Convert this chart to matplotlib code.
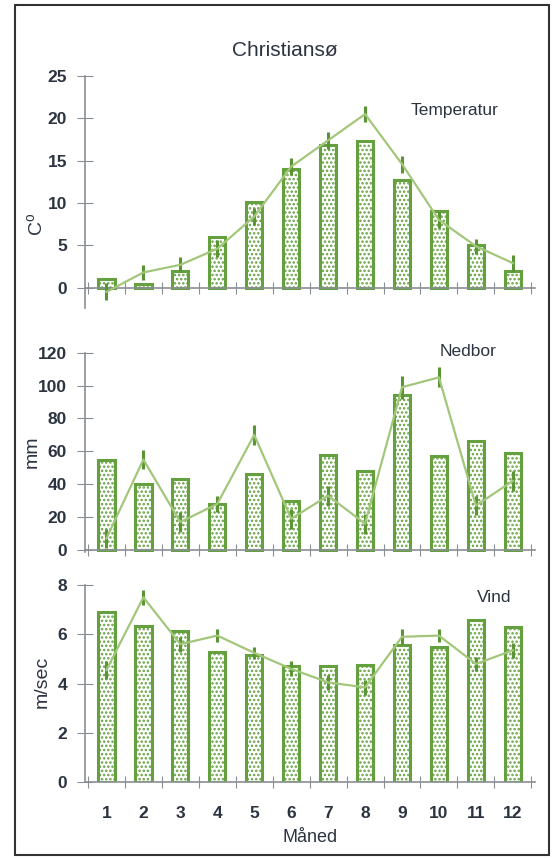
import matplotlib

matplotlib.use("Agg")
import matplotlib.pyplot as plt
from matplotlib.patches import Rectangle

MONTHS = list(range(1, 13))

# Temperatur (C)
TEMP_BAR = [1.0, 0.4, 2.0, 6.0, 10.1, 14.0, 16.9, 17.3, 12.7, 9.1, 5.0, 2.0]
TEMP_LINE = [-0.5, 1.8, 2.7, 4.6, 8.4, 14.3, 17.4, 20.5, 14.6, 8.0, 4.9, 2.9]
TEMP_ERR = [1.0, 0.9, 0.9, 1.0, 1.0, 1.0, 1.0, 0.9, 1.0, 0.9, 0.9, 1.0]

# Nedbor (mm)
RAIN_BAR = [55, 40, 43, 28, 46, 30, 58, 48, 94, 57, 66, 59]
RAIN_LINE = [7, 55, 17, 28, 70, 19, 33, 16, 99, 105, 27, 42]
RAIN_ERR = [6, 6, 6, 5, 6, 6, 6, 6, 7, 6, 6, 6]

# Vind (m/sec)
WIND_BAR = [6.9, 6.35, 6.15, 5.3, 5.15, 4.7, 4.7, 4.75, 5.55, 5.5, 6.6, 6.28]
WIND_LINE = [4.55, 7.5, 5.6, 5.95, 5.25, 4.6, 4.05, 3.85, 5.9, 5.95, 4.8, 5.35]
WIND_ERR = [0.35, 0.3, 0.3, 0.25, 0.25, 0.3, 0.3, 0.3, 0.3, 0.25, 0.3, 0.3]

BAR_EDGE = "#64a03e"
LINE_COLOR = "#a3c77a"
ERR_COLOR = "#5a9435"
AXIS_COLOR = "#8a8f95"
TEXT_COLOR = "#2b3440"

plt.rcParams.update({
    "font.family": ["Liberation Sans", "DejaVu Sans"],
    "hatch.linewidth": 1.2,
})

fig = plt.figure(figsize=(5.52, 8.58), dpi=100)

W, H = 552, 858


def axes_px(x0, x1, ytop, ybot):
    return fig.add_axes([x0 / W, 1 - ybot / H, (x1 - x0) / W, (ybot - ytop) / H])


def panel(ax, bars, line, err, ylim, yticks, label, name, name_xy, show_months=False):
    ax.bar(MONTHS, bars, width=0.44, facecolor="white", edgecolor=BAR_EDGE,
           linewidth=2.2, hatch="....", zorder=2)
    ax.errorbar(MONTHS, line, yerr=err, fmt="-", color=LINE_COLOR, lw=1.6,
                ecolor=ERR_COLOR, elinewidth=2.2, capsize=0, zorder=3)
    ax.set_xlim(0.42, 12.6)
    ax.set_ylim(*ylim)
    ax.set_yticks(yticks)
    for t in ax.get_yticklabels():
        t.set_fontweight("bold")
    ax.spines[["top", "right"]].set_visible(False)
    ax.spines["bottom"].set_position(("data", 0))
    for s in ("left", "bottom"):
        ax.spines[s].set_color(AXIS_COLOR)
        ax.spines[s].set_linewidth(1.2)
    ax.set_xticks([m + 0.5 for m in range(13)])
    ax.tick_params(axis="x", which="major", direction="inout", length=9,
                   color=AXIS_COLOR, labelbottom=False)
    ax.tick_params(axis="y", direction="inout", length=12, color=AXIS_COLOR,
                   labelsize=12.5, labelcolor=TEXT_COLOR, pad=7)
    if show_months:
        ax.set_xticks(MONTHS, minor=True)
        ax.set_xticklabels([str(m) for m in MONTHS], minor=True,
                           fontweight="bold")
        ax.tick_params(axis="x", which="minor", length=0, pad=17,
                       labelsize=12.5, labelcolor=TEXT_COLOR)
    else:
        ax.tick_params(axis="x", which="minor", bottom=False)
    ax.patch.set_alpha(0)
    fig.text(name_xy[0] / W, 1 - name_xy[1] / H, name, fontsize=12.5,
             color=TEXT_COLOR, ha="center", va="center")
    fig.text(label[1] / W, 1 - label[2] / H, label[0], fontsize=14,
             color=TEXT_COLOR, rotation=90, ha="center", va="center")


ax1 = axes_px(85, 535, 76, 308)
panel(ax1, TEMP_BAR, TEMP_LINE, TEMP_ERR, (-2.4, 25), range(0, 26, 5),
      ("C$^{\\mathregular{o}}$", 37, 224), "Temperatur", (455, 111))

ax2 = axes_px(85, 535, 352.7, 551.6)
panel(ax2, RAIN_BAR, RAIN_LINE, RAIN_ERR, (-1, 120), range(0, 121, 20),
      ("mm", 32, 452), "Nedbor", (468, 351))

ax3 = axes_px(85, 535, 585, 782.3)
panel(ax3, WIND_BAR, WIND_LINE, WIND_ERR, (0, 8), range(0, 9, 2),
      ("m/sec", 42, 682), "Vind", (494, 597), show_months=True)

fig.text(285 / W, 1 - 50 / H, "Christiansø", fontsize=15, color=TEXT_COLOR,
         ha="center", va="center")
fig.text(310 / W, 1 - 837 / H, "Måned", fontsize=13, color=TEXT_COLOR,
         ha="center", va="center")

fig.add_artist(Rectangle((15 / W, 1 - 855 / H), 534 / W, 850 / H,
                         transform=fig.transFigure, fill=False,
                         edgecolor="#333333", linewidth=1.5))

fig.savefig("out.png", dpi=100)
